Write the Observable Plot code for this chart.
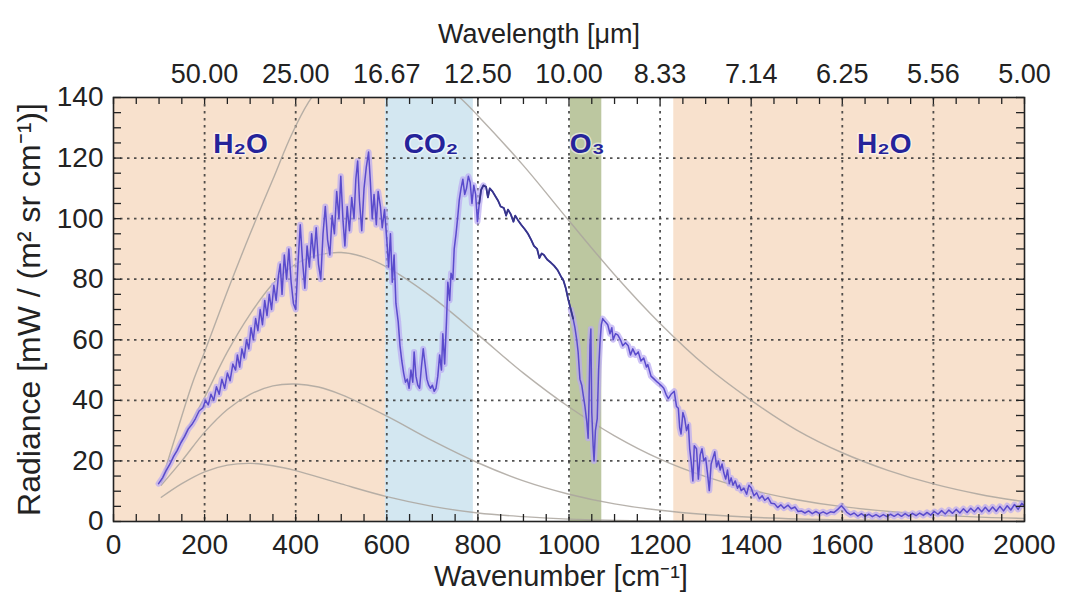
<!DOCTYPE html>
<html>
<head>
<meta charset="utf-8">
<script src="https://cdn.jsdelivr.net/npm/d3@7"></script>
<script src="https://cdn.jsdelivr.net/npm/@observablehq/plot@0.6"></script>
<style>
  html, body { margin: 0; padding: 0; background: #fff; }
  #chart svg { display: block; }
</style>
</head>
<body>
<div id="chart"></div>
<script>
// ---- axis ticks ----
const wavenumberTicks = [0, 200, 400, 600, 800, 1000, 1200, 1400, 1600, 1800, 2000];
const wavelengthTicks = [200, 400, 600, 800, 1000, 1200, 1400, 1600, 1800, 2000];
const wavelengthLabels = ["50.00", "25.00", "16.67", "12.50", "10.00", "8.33", "7.14", "6.25", "5.56", "5.00"];
const radianceTicks = [0, 20, 40, 60, 80, 100, 120, 140];
const gridWavenumbers = [200, 400, 600, 800, 1000, 1200, 1400, 1600, 1800];
const gridRadiance = [20, 40, 60, 80, 100, 120];

// ---- absorption bands ----
const bandNames = ["H₂O", "CO₂", "O₃", "H₂O"];
const bandGas = ["water", "co2", "ozone", "water"];
const bandStart = [0, 597, 1003, 1230];
const bandEnd = [597, 790, 1072, 2000];
const bandLabelAt = [279, 697, 1040, 1692];

// ---- blackbody reference curves (wavenumber, radiance) ----
const planck300 = [[105,13],[140,30],[174,46],[200,56],[250,76],[300,95],[350,113],[395,129],[440,141],[500,149],[600,153],[700,147],[760,140],[800,134],[900,117.5],[1000,99.3],[1100,81.5],[1200,65.4],[1300,51.4],[1400,40],[1500,30.2],[1600,22.7],[1700,16.9],[1800,12.4],[1900,9],[2000,6.5]];
const planck250 = [[105,13],[150,27],[200,41],[250,56],[300,68.5],[350,78.5],[400,85],[450,88],[500,88.8],[550,87.3],[600,84],[700,74],[800,61.7],[900,49],[1000,37.8],[1100,28.3],[1200,20.6],[1300,14.8],[1400,10.4],[1500,7.2],[1600,4.9],[1800,2.2],[2000,1]];
const planck200 = [[105,12],[150,20],[200,29.5],[250,37],[300,42],[350,44.8],[400,45.4],[450,44.4],[500,41.9],[600,34.8],[700,26.7],[800,19.4],[900,13.4],[1000,9],[1100,5.8],[1200,3.7],[1300,2.3],[1400,1.4],[1600,0.5],[1800,0.15],[2000,0.05]];
const planck150 = [[105,8],[150,12.5],[200,16.4],[250,18.6],[300,19.2],[350,18.4],[400,16.8],[500,12.4],[600,8.2],[700,5],[800,2.8],[900,1.6],[1000,0.8],[1200,0.2],[1400,0.05],[2000,0]];

// ---- measured spectrum (wavenumber, radiance) ----
const spectrum = [
  [99,12.5],[108,14.5],[116,17],[124,19],[132,21.5],[140,23.5],[148,26],[156,28],[164,30.5],[172,32],[180,34],[188,36.5],[196,37.5],
  [202,40],[208,38.5],[214,42],[220,40],[226,44.5],[232,42],[238,47],[244,44],[250,49],[256,46.5],[262,52],[268,50],[272,55],[277,51],
  [282,57],[287,54],[292,60],[297,57],[302,64],[307,60],[312,67],[317,63],[322,70],[327,65],[332,73],[337,68],[342,75],[347,70],
  [352,78],[357,73],[362,81],[366,85],[370,75],[375,88],[380,80],[385,90],[390,79],[395,72],[400,70],[405,85],[410,98],[415,86],
  [420,77],[425,91],[430,84],[435,95],[440,87],[445,97],[450,85],[455,80],[460,95],[465,104],[470,93],[475,88],[480,101],[485,95],
  [490,109],[495,100],[499,114],[504,99],[508,91],[513,104],[518,96],[523,107],[528,100],[532,113],[536,119],[540,106],[545,96],
  [550,110],[555,117],[560,122],[564,112],[568,100],[572,108],[577,98],[581,109],[586,104],[590,97],[595,103],[600,93],
  [604,84],[608,95],[612,79],[616,88],[620,72],[625,66],[629,58],[633,53],[637,49],[641,46],[645,47],[649,44],[653,50],[657,46],
  [660,56],[664,48],[668,45],[672,44],[676,51],[680,57],[684,52],[688,47],[692,45],[696,44],[700,45],[704,43],[708,44],[712,48],
  [716,55],[720,50],[723,62],[727,52],[731,66],[734,79],[738,73],[741,82],[745,80],[748,90],[752,95],[756,101],[759,106],[763,110],
  [767,113],[771,108],[775,110],[779,114],[783,112],[787,105],[791,111],[795,108],[799,99],[803,105],[807,109.5],[812,111],
  [818,110.5],[822,107],[826,110],[832,109],[838,107.5],[844,106],[850,104],[857,103.5],[862,101],[866,103],[872,101.5],[878,99],
  [882,101],[888,99.5],[895,98],[903,96.5],[910,95],[917,93],[923,91],[930,90],[935,87],[940,88.5],[945,88],[952,86.5],[960,85.5],
  [967,84.5],[975,83],[982,81],[988,79.5],[993,77],[998,73.5],[1004,70],[1009,67],[1013,64],[1017,60],[1020,56],[1024,47],
  [1028,45],[1031,42],[1035,38],[1039,33],[1042,27.5],[1044,40],[1046,58],[1048,63.6],[1050,36],[1053,25],[1055,20],[1058,30],
  [1062,34],[1065,50],[1068,59],[1071,65],[1074,67],[1079,66],[1085,65],[1090,62],[1094,64],[1097,60],[1102,62],[1107,61.6],
  [1113,60],[1118,58],[1124,59],[1130,58],[1135,55],[1140,57],[1146,55],[1152,56],[1158,53],[1164,54],[1170,51],[1173,51.8],
  [1180,48],[1187,47],[1194,46],[1202,45],[1208,44],[1213,42],[1218,40.6],[1224,42],[1231,43],[1236,38],[1240,37.4],[1243,31],
  [1246,28.9],[1250,36],[1254,34],[1258,30],[1262,32],[1265,24],[1268,20],[1272,13.4],[1275,25],[1280,24],[1284,14],[1288,22],
  [1292,24],[1296,20],[1300,21],[1304,16],[1308,10.2],[1312,19],[1316,21],[1320,23],[1324,18],[1328,20],[1332,17],[1336,19],
  [1340,16],[1344,14],[1348,17],[1352,12.5],[1356,14.4],[1360,12],[1365,13.4],[1370,11],[1374,12],[1378,10.2],[1384,11],[1390,9],
  [1395,12],[1400,11.1],[1406,8.5],[1412,9.5],[1418,7.5],[1424,8.5],[1430,7],[1437,7.9],[1444,6],[1451,5.9],[1458,4.6],[1465,5.5],
  [1472,4.4],[1481,5.4],[1488,4.2],[1496,4.8],[1503,3.3],[1510,3.5],[1518,2.8],[1526,3.5],[1534,2.6],[1542,3.3],[1550,2.6],
  [1558,3.2],[1566,2.5],[1574,3.2],[1582,3],[1590,4],[1598,5.2],[1604,4.2],[1610,3],[1618,2.2],[1626,2.8],[1634,1.8],[1642,2.6],
  [1650,1.7],[1658,2.4],[1666,1.6],[1674,2.3],[1682,1.5],[1690,2.3],[1698,1.6],[1706,2.4],[1714,1.7],[1722,2.5],[1730,1.7],
  [1738,2.6],[1746,1.8],[1754,2.7],[1762,1.9],[1770,2.8],[1778,2.0],[1786,3.0],[1794,2.1],[1802,3.3],[1810,2.4],[1818,3.6],
  [1826,2.5],[1834,3.8],[1842,2.7],[1850,4.0],[1858,2.8],[1866,4.2],[1874,3.0],[1882,4.4],[1890,3.2],[1898,4.6],[1906,3.2],
  [1914,4.7],[1922,3.3],[1930,4.8],[1938,3.4],[1946,5.0],[1954,3.5],[1962,5.2],[1970,3.8],[1978,5.6],[1986,4.0],[1994,6.0],[2000,5.2]
];

// ---- layout & styling ----
const W = 1066, H = 601;
const mL = 113, mR = 42, mT = 97, mB = 80;
const innerW = W - mL - mR, innerH = H - mT - mB;
const font = "'Liberation Sans', Arial, Helvetica, sans-serif";
const ink = "#222";
const bandColor = { water: "#f8e1cd", co2: "#d3e7f1", ozone: "#bcc7a0" };
const gridStyle = { stroke: "#333", strokeOpacity: 0.85, strokeWidth: 1.8, strokeDasharray: "2.5,4.5" };
const planckStyle = { stroke: "#aaa59e", strokeWidth: 1.4, strokeOpacity: 0.85, curve: "catmull-rom", clip: true };

const bands = bandNames.map((name, i) => ({ name, gas: bandGas[i], x1: bandStart[i], x2: bandEnd[i] }));
const minorX = d3.range(0, 2001, 50);
const minorY = d3.range(0, 141, 5);
const px = d => d[0], py = d => d[1];
// the dense envelope is broken over the smooth 800–1000 window
const envelopeY = d => (d[0] > 812 && d[0] < 1002) ? NaN : d[1];
const midY = d => (d[0] >= 800 && d[0] <= 1010) ? d[1] : NaN;

const chart = Plot.plot({
  width: W, height: H,
  marginLeft: mL, marginRight: mR, marginTop: mT, marginBottom: mB,
  style: { fontFamily: font, background: "#fff", color: ink },
  x: { domain: [0, 2000] },
  y: { domain: [0, 140] },
  marks: [
    ...bands.map(b => Plot.rect([b], { x1: "x1", x2: "x2", fill: bandColor[b.gas] })),
    Plot.gridX(gridWavenumbers, gridStyle),
    Plot.gridY(gridRadiance, gridStyle),
    Plot.line(planck300, { x: px, y: py, ...planckStyle }),
    Plot.line(planck250, { x: px, y: py, ...planckStyle }),
    Plot.line(planck200, { x: px, y: py, ...planckStyle }),
    Plot.line(planck150, { x: px, y: py, ...planckStyle }),
    // soft envelope of the high-resolution spectrum
    Plot.line(spectrum, { x: px, y: envelopeY, stroke: "#b9a9f2", strokeWidth: 6, strokeOpacity: 0.7, strokeLinejoin: "round", clip: true }),
    Plot.line(spectrum, { x: px, y: py, stroke: "#5a4bcc", strokeWidth: 1.5, strokeLinejoin: "round", clip: true }),
    Plot.line(spectrum, { x: px, y: midY, stroke: "#37358a", strokeWidth: 1.8, strokeLinejoin: "round", clip: true }),
    // inward ticks on all four sides
    Plot.tickX(minorX, { x: d => d, insetTop: innerH - 7, stroke: ink, strokeWidth: 1.3 }),
    Plot.tickX(minorX, { x: d => d, insetBottom: innerH - 7, stroke: ink, strokeWidth: 1.3 }),
    Plot.tickY(minorY, { y: d => d, insetRight: innerW - 8, stroke: ink, strokeWidth: 1.3 }),
    Plot.tickY(minorY, { y: d => d, insetLeft: innerW - 8, stroke: ink, strokeWidth: 1.3 }),
    Plot.frame({ stroke: ink, strokeWidth: 1.6 }),
    // axes
    Plot.axisX(wavenumberTicks, { anchor: "bottom", tickSize: 0, tickPadding: 13, fontSize: 28, label: null, fill: ink,
      tickFormat: d => String(d) }),
    Plot.axisX(wavelengthTicks, { anchor: "top", tickSize: 0, tickPadding: 15, fontSize: 27, label: null, fill: ink,
      tickFormat: d => wavelengthLabels[wavelengthTicks.indexOf(d)] }),
    Plot.axisY(radianceTicks, { anchor: "left", tickSize: 0, tickPadding: 10, fontSize: 28, label: null, fill: ink,
      tickFormat: d => String(d) }),
    // axis titles
    Plot.text(["Wavelength [μm]"], { text: d => d, frameAnchor: "top", dx: -30, dy: -74, fontSize: 27, fill: ink }),
    Plot.text(["Wavenumber [cm⁻¹]"], { text: d => d, frameAnchor: "bottom", dx: -8, dy: 64, fontSize: 29, fill: ink }),
    Plot.text(["Radiance [mW / (m² sr cm⁻¹)]"], { text: d => d, frameAnchor: "left", textAnchor: "middle", dx: -84, dy: 0, rotate: -90, fontSize: 32, fill: ink }),
    // band labels
    Plot.text(bandLabelAt, { x: d => d, text: (d, i) => bandNames[i], frameAnchor: "top", dy: 36,
      fontSize: 28, fontWeight: "bold", fill: "#25239a", stroke: "#fff", strokeWidth: 3, strokeOpacity: 0.55 })
  ]
});

document.getElementById("chart").appendChild(chart);
</script>
</body>
</html>
